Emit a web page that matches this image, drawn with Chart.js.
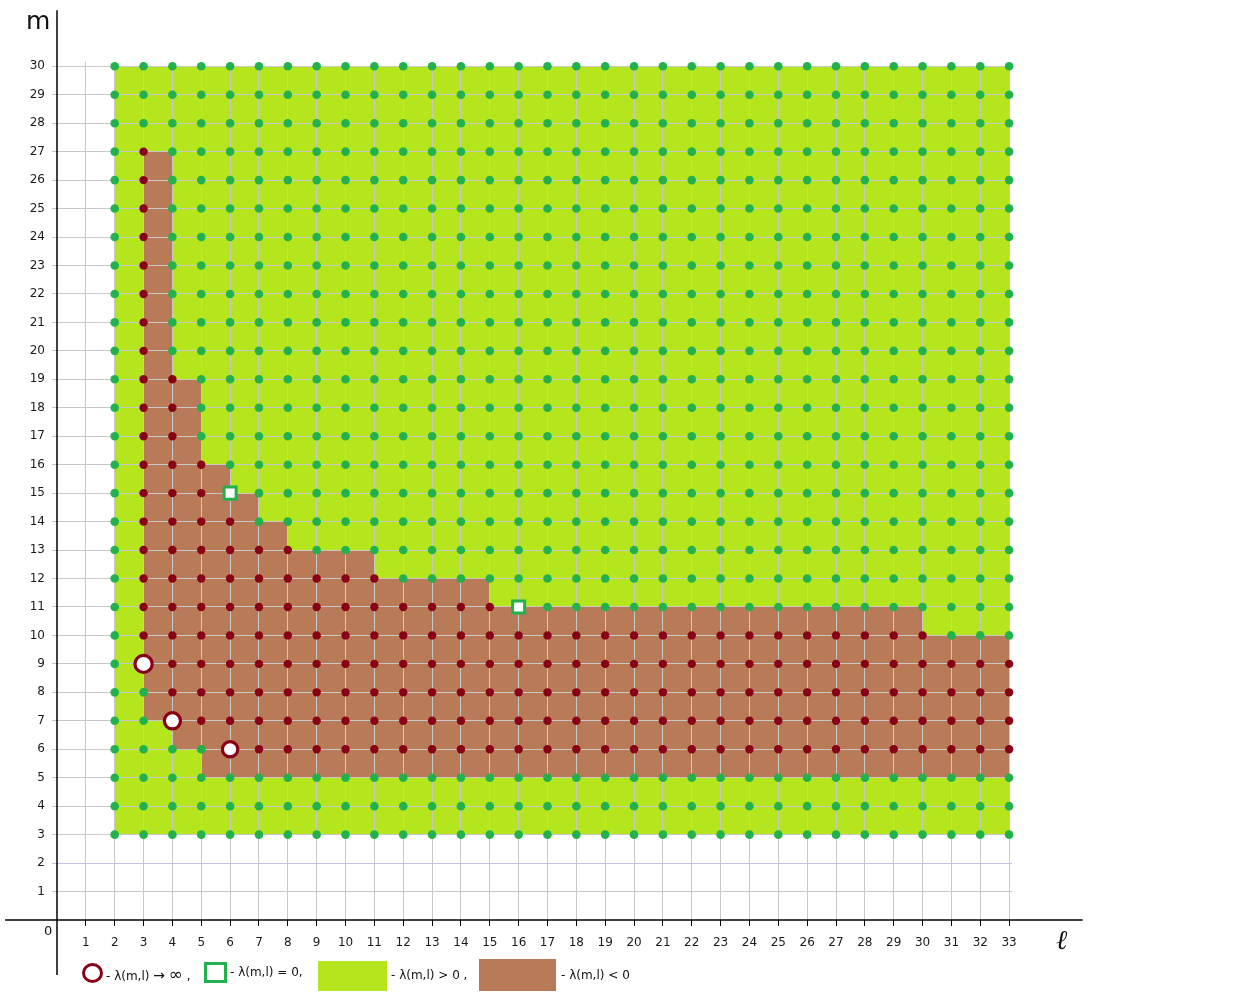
<!DOCTYPE html>
<html>
<head>
<meta charset="utf-8">
<script src="https://cdn.jsdelivr.net/npm/chart.js@4.4.1/dist/chart.umd.min.js"></script>
<style>
  html, body { margin: 0; padding: 0; background: #fff; }
  #wrap { position: relative; width: 1257px; height: 1004px; overflow: hidden; }
  #chart { position: absolute; left: 0; top: 0; }
  .txt { position: absolute; font-family: 'DejaVu Sans', sans-serif; color: #111; white-space: nowrap; line-height: 1; }
  .box { position: absolute; box-sizing: border-box; }
  .big { font-size: 17px; }
</style>
</head>
<body>
<div id="wrap">
  <canvas id="chart" width="1257" height="1004"></canvas>

  <div class="txt" style="left:26px; top:8px; font-size:25px;">m</div>
  <div class="txt" style="left:44px; top:924px; font-size:13px;">0</div>
  <div class="txt" style="left:1056px; top:926px; font-size:27px; font-family:'DejaVu Serif', serif; font-style:italic;">ℓ</div>

  <!-- legende -->
  <div class="box" style="left:82px; top:963px; width:21px; height:20px; border:3px solid #880015; border-radius:50%; background:#fff;"></div>
  <div class="txt" style="left:106px; top:966px; font-size:12px;">- λ(m,l) <span style="font-size:14px">→</span> <span class="big">∞</span> ,</div>
  <div class="box" style="left:204px; top:962px; width:23px; height:21px; border:3px solid #22b14c; background:#fff;"></div>
  <div class="txt" style="left:230px; top:966px; font-size:12px;">- λ(m,l) = 0,</div>
  <div class="box" style="left:318px; top:961px; width:69px; height:30px; background:#b5e61d;"></div>
  <div class="txt" style="left:391px; top:969px; font-size:12px;">- λ(m,l) &gt; 0 ,</div>
  <div class="box" style="left:479px; top:959px; width:77px; height:32px; background:#b97a57;"></div>
  <div class="txt" style="left:561px; top:969px; font-size:12px;">- λ(m,l) &lt; 0</div>
</div>

<script>
// graduations
const lTicks = [1, 2, 3, 4, 5, 6, 7, 8, 9, 10, 11, 12, 13, 14, 15, 16, 17, 18, 19, 20, 21, 22, 23, 24, 25, 26, 27, 28, 29, 30, 31, 32, 33];
const mTicks = [1, 2, 3, 4, 5, 6, 7, 8, 9, 10, 11, 12, 13, 14, 15, 16, 17, 18, 19, 20, 21, 22, 23, 24, 25, 26, 27, 28, 29, 30];

// points du réseau
const lCols = [2, 3, 4, 5, 6, 7, 8, 9, 10, 11, 12, 13, 14, 15, 16, 17, 18, 19, 20, 21, 22, 23, 24, 25, 26, 27, 28, 29, 30, 31, 32, 33];
const mRows = [3, 4, 5, 6, 7, 8, 9, 10, 11, 12, 13, 14, 15, 16, 17, 18, 19, 20, 21, 22, 23, 24, 25, 26, 27, 28, 29, 30];

// points lambda < 0 : pour chaque l (3..33), m de redLow à redHigh
const redL    = [3, 4, 5, 6, 7, 8, 9, 10, 11, 12, 13, 14, 15, 16, 17, 18, 19, 20, 21, 22, 23, 24, 25, 26, 27, 28, 29, 30, 31, 32, 33];
const redLow  = [10, 8, 7, 7, 6, 6, 6, 6, 6, 6, 6, 6, 6, 6, 6, 6, 6, 6, 6, 6, 6, 6, 6, 6, 6, 6, 6, 6, 6, 6, 6];
const redHigh = [27, 19, 16, 14, 13, 13, 12, 12, 12, 11, 11, 11, 11, 10, 10, 10, 10, 10, 10, 10, 10, 10, 10, 10, 10, 10, 10, 10, 9, 9, 9];

// lambda -> infini
const infL = [3, 4, 6];
const infM = [9, 7, 6];
// lambda = 0
const zeroL = [6, 16];
const zeroM = [15, 11];

// zone verte (lambda > 0)
const greenL = [2, 33];
const greenTop = [30, 30];
const greenBase = 3;

// zone marron (lambda < 0), en escalier : valeur valable de l[i] à l[i+1]
const brownTopL = [3, 4, 5, 6, 7, 8, 11, 15, 30, 33];
const brownTop  = [27, 19, 16, 15, 14, 13, 12, 11, 10, 10];
const brownBaseL = [3, 4, 5, 33];
const brownBase  = [7, 6, 5, 5];

// construction des séries de points
const isSpecial = (l, m) =>
  infL.some((v, i) => v === l && infM[i] === m) || zeroL.some((v, i) => v === l && zeroM[i] === m);
const isRed = (l, m) => {
  const i = redL.indexOf(l);
  return i >= 0 && m >= redLow[i] && m <= redHigh[i];
};

const redPts = [];
const greenPts = [];
lCols.forEach(l => {
  mRows.forEach(m => {
    if (isSpecial(l, m)) return;
    if (isRed(l, m)) redPts.push({ x: l, y: m });
    else greenPts.push({ x: l, y: m });
  });
});

const pts = (xs, ys) => xs.map((x, i) => ({ x, y: ys[i] }));

// escalier -> coins explicites
function stairs(xs, ys) {
  const out = [];
  for (let i = 0; i < xs.length - 1; i++) {
    out.push({ x: xs[i], y: ys[i] });
    out.push({ x: xs[i + 1], y: ys[i] });
  }
  return out;
}

const BROWN_TOP = 2;

// redessine la grille au-dessus des zones colorées, sous les points
const gridOverFill = {
  id: 'gridOverFill',
  afterDatasetDraw(chart, args) {
    if (args.index !== BROWN_TOP) return;
    chart.scales.x.drawGrid(chart.chartArea);
    chart.scales.y.drawGrid(chart.chartArea);
  }
};

const ctx = document.getElementById('chart');
new Chart(ctx, {
  type: 'scatter',
  data: {
    datasets: [
      {
        label: 'vert',
        type: 'line',
        data: pts(greenL, greenTop),
        borderWidth: 0,
        pointRadius: 0,
        backgroundColor: '#b5e61d',
        fill: { value: greenBase },
        order: 12
      },
      {
        label: 'marron bas',
        type: 'line',
        data: stairs(brownBaseL, brownBase),
        borderWidth: 0,
        pointRadius: 0,
        tension: 0,
        fill: false,
        order: 11
      },
      {
        label: 'marron haut',
        type: 'line',
        data: stairs(brownTopL, brownTop),
        borderWidth: 0,
        pointRadius: 0,
        tension: 0,
        backgroundColor: '#b97a57',
        fill: '-1',
        order: 10
      },
      {
        label: 'axe l',
        type: 'line',
        data: [{ x: -1.8, y: 0 }, { x: 35.55, y: 0 }],
        borderColor: '#000',
        borderWidth: 1.5,
        pointRadius: 0,
        clip: false,
        order: 5
      },
      {
        label: 'axe m',
        type: 'line',
        data: [{ x: 0, y: -1.93 }, { x: 0, y: 31.97 }],
        borderColor: '#000',
        borderWidth: 1.5,
        pointRadius: 0,
        clip: false,
        order: 5
      },
      {
        label: 'λ > 0',
        data: greenPts,
        pointRadius: 4.3,
        pointBackgroundColor: '#22b14c',
        pointBorderWidth: 0,
        clip: false,
        order: 3
      },
      {
        label: 'λ < 0',
        data: redPts,
        pointRadius: 4.2,
        pointBackgroundColor: '#880015',
        pointBorderWidth: 0,
        clip: false,
        order: 3
      },
      {
        label: 'λ → ∞',
        data: pts(infL, infM),
        pointRadius: [8.6, 8.1, 7.7],
        pointBackgroundColor: '#fff',
        pointBorderColor: '#880015',
        pointBorderWidth: 3.2,
        clip: false,
        order: 1
      },
      {
        label: 'λ = 0',
        data: pts(zeroL, zeroM),
        pointStyle: 'rect',
        pointRadius: 8.5,
        pointBackgroundColor: '#fff',
        pointBorderColor: '#22b14c',
        pointBorderWidth: 3,
        clip: false,
        order: 1
      }
    ]
  },
  options: {
    responsive: false,
    animation: false,
    devicePixelRatio: 1,
    events: [],
    layout: { padding: { left: 0, top: 62, right: 245, bottom: 0 } },
    plugins: {
      legend: { display: false },
      tooltip: { enabled: false }
    },
    scales: {
      x: {
        type: 'linear',
        min: 0,
        max: 33.1,
        afterFit: s => { s.height = 84; },
        afterBuildTicks: s => { s.ticks = lTicks.map(v => ({ value: v })); },
        border: { display: false },
        grid: {
          color: '#c8c8c8',
          lineWidth: 1,
          tickColor: '#000',
          tickLength: 6
        },
        ticks: {
          autoSkip: false,
          maxRotation: 0,
          padding: 10,
          color: '#1a1a1a',
          font: { family: 'DejaVu Sans', size: 12 }
        }
      },
      y: {
        type: 'linear',
        min: 0,
        max: 30.15,
        afterFit: s => { s.width = 57; },
        afterBuildTicks: s => { s.ticks = mTicks.map(v => ({ value: v })); },
        border: { display: false },
        grid: {
          color: c => (c.tick && c.tick.value === 2 ? '#c9bfe6' : '#c8c8c8'),
          lineWidth: 1,
          tickColor: '#c8c8c8',
          tickLength: 5
        },
        ticks: {
          autoSkip: false,
          padding: 7,
          color: '#1a1a1a',
          font: { family: 'DejaVu Sans', size: 12 }
        }
      }
    }
  },
  plugins: [gridOverFill]
});
</script>
</body>
</html>
